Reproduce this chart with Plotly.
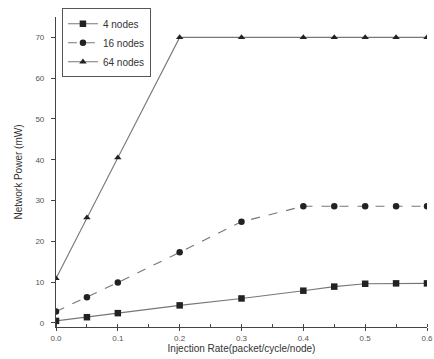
import plotly.graph_objects as go

x_vals = [0.0, 0.05, 0.1, 0.2, 0.3, 0.4, 0.45, 0.5, 0.55, 0.6]
nodes4 = [0.5, 1.4, 2.4, 4.3, 6.0, 7.9, 8.9, 9.6, 9.7, 9.7]
nodes16 = [2.8, 6.3, 9.9, 17.3, 24.8, 28.6, 28.6, 28.6, 28.6, 28.6]
nodes64 = [10.9, 25.8, 40.5, 70.0, 70.0, 70.0, 70.0, 70.0, 70.0, 70.0]
series_names = ["4 nodes", "16 nodes", "64 nodes"]
x_ticks = [0.0, 0.1, 0.2, 0.3, 0.4, 0.5, 0.6]
x_tick_text = ["0.0", "0.1", "0.2", "0.3", "0.4", "0.5", "0.6"]
y_ticks = [0, 10, 20, 30, 40, 50, 60, 70]

fig = go.Figure()
styles = [("square", "solid"), ("circle", "dash"), ("triangle-up", "solid")]
for name, ys, (sym, dash) in zip(series_names, [nodes4, nodes16, nodes64], styles):
    fig.add_trace(go.Scatter(
        x=x_vals, y=ys, name=name, mode="lines+markers",
        line=dict(color="#777777", width=1.1, dash=dash),
        marker=dict(symbol=sym, size=6.5, color="#222222"),
    ))

fig.update_layout(
    width=434, height=359,
    margin=dict(l=56, r=7, t=17, b=32, autoexpand=False),
    paper_bgcolor="white", plot_bgcolor="white",
    font=dict(family="Liberation Sans, Arial, sans-serif", size=9, color="#444444"),
    showlegend=True,
    legend=dict(
        x=0.016, y=1.028, xanchor="left", yanchor="top",
        bordercolor="#555555", borderwidth=1, bgcolor="white",
        font=dict(size=10, color="#333333"),
        itemwidth=30, tracegroupgap=0,
    ),
    xaxis=dict(
        range=[0, 0.6], tickvals=x_ticks, ticktext=x_tick_text,
        ticks="outside", ticklen=3, tickcolor="#444444",
        showline=True, linecolor="#444444", linewidth=1.2,
        showgrid=False, zeroline=False,
        minor=dict(dtick=0.05, ticks="inside", ticklen=3, tickcolor="#444444"),
        title=dict(text="Injection Rate(packet/cycle/node)", font=dict(size=10, color="#333333"), standoff=3),
        tickfont=dict(size=8, color="#555555"),
        automargin=False,
    ),
    yaxis=dict(
        range=[-1, 75], tickvals=y_ticks,
        ticks="outside", ticklen=4, tickcolor="#444444",
        showline=True, linecolor="#444444", linewidth=1.2,
        showgrid=False, zeroline=False, ticklabelstandoff=5,
        title=dict(text="Network Power (mW)", font=dict(size=10, color="#333333"), standoff=10),
        tickfont=dict(size=8, color="#555555"),
        automargin=False,
    ),
)

fig.write_html(
    "out.html",
    config={"displayModeBar": False},
    post_script="document.body.style.margin='0';document.body.style.overflow='hidden';",
)
